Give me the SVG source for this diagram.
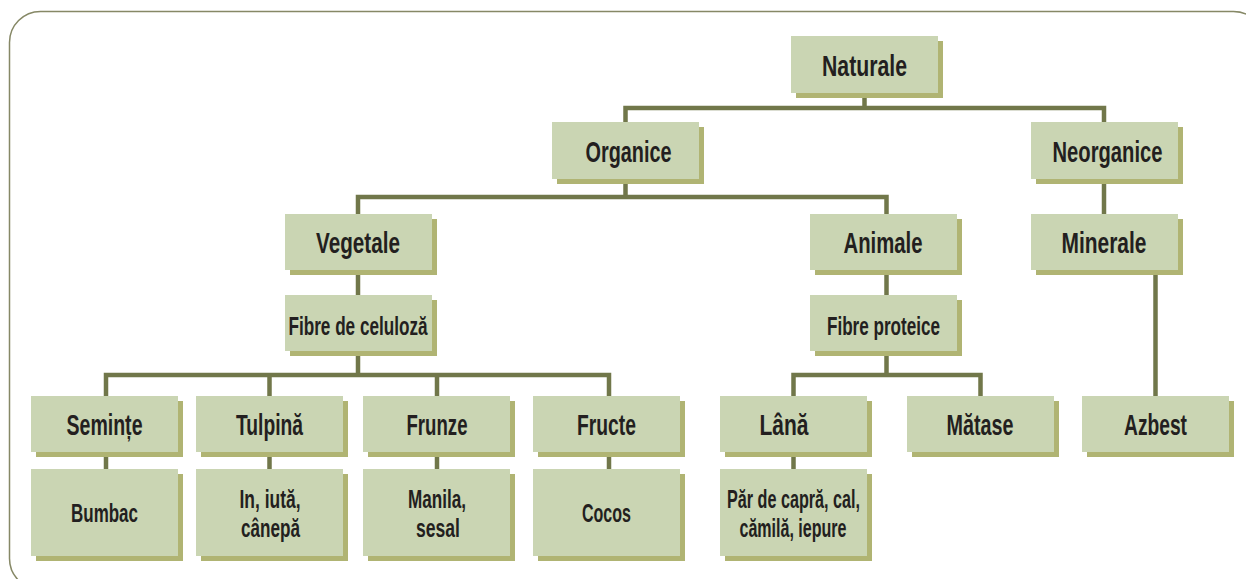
<svg xmlns="http://www.w3.org/2000/svg" width="1246" height="579" viewBox="0 0 1246 579">
<style>
.sh{fill:#b0b473}
.bx{fill:#cad5b3}
.t{font-family:"Liberation Sans",Arial,sans-serif;font-weight:bold;font-size:30px;fill:#231f20;text-anchor:middle}
.s{font-size:26px}
.c{fill:none;stroke:#71774a;stroke-width:4.5;stroke-linejoin:miter;stroke-linecap:butt}
</style>
<rect x="9.5" y="11.5" width="1255" height="578" rx="31" fill="#fff" stroke="#868866" stroke-width="1.5"/>
<g id="connectors" class="c">
<path d="M864.5,93V108M625.5,122V108H1104V122"/>
<path d="M625.5,179V197M358,214V197H886.5V214"/>
<path d="M1104,179V214"/>
<path d="M1155.5,270V396"/>
<path d="M358,270V295"/>
<path d="M358,351V375M106,396V375H609V396M269.5,375V396M437,375V396"/>
<path d="M886.5,270V295"/>
<path d="M886.5,351V375M793.5,396V375H980.5V396"/>
<path d="M106,452V469M269.5,452V469M437,452V469M609,452V469M793.5,452V469"/>
</g>
<g id="naturale"><rect class="sh" x="796" y="41" width="147" height="57"/><rect class="bx" x="791" y="36" width="147" height="57"/><text class="t" x="864.5" y="76" textLength="85" lengthAdjust="spacingAndGlyphs">Naturale</text></g>
<g id="organice"><rect class="sh" x="557" y="127" width="147" height="57"/><rect class="bx" x="552" y="122" width="147" height="57"/><text class="t" x="628.5" y="161.5" textLength="86" lengthAdjust="spacingAndGlyphs">Organice</text></g>
<g id="neorganice"><rect class="sh" x="1036" y="127" width="147" height="57"/><rect class="bx" x="1031" y="122" width="147" height="57"/><text class="t" x="1107.5" y="161.5" textLength="110" lengthAdjust="spacingAndGlyphs">Neorganice</text></g>
<g id="vegetale"><rect class="sh" x="290" y="219" width="147" height="56"/><rect class="bx" x="285" y="214" width="147" height="56"/><text class="t" x="358" y="253" textLength="84" lengthAdjust="spacingAndGlyphs">Vegetale</text></g>
<g id="animale"><rect class="sh" x="815" y="219" width="147" height="56"/><rect class="bx" x="810" y="214" width="147" height="56"/><text class="t" x="883" y="253" textLength="79" lengthAdjust="spacingAndGlyphs">Animale</text></g>
<g id="minerale"><rect class="sh" x="1036" y="219" width="147" height="56"/><rect class="bx" x="1031" y="214" width="147" height="56"/><text class="t" x="1104" y="253" textLength="85" lengthAdjust="spacingAndGlyphs">Minerale</text></g>
<g id="fibre-celuloza"><rect class="sh" x="290" y="300" width="147" height="56"/><rect class="bx" x="285" y="295" width="147" height="56"/><text class="t s" x="358" y="334.5" textLength="139" lengthAdjust="spacingAndGlyphs">Fibre de celuloză</text></g>
<g id="fibre-proteice"><rect class="sh" x="815" y="300" width="147" height="56"/><rect class="bx" x="810" y="295" width="147" height="56"/><text class="t s" x="883.5" y="334.5" textLength="113" lengthAdjust="spacingAndGlyphs">Fibre proteice</text></g>
<g id="seminte"><rect class="sh" x="36" y="401" width="147" height="56"/><rect class="bx" x="31" y="396" width="147" height="56"/><text class="t" x="104.5" y="435" textLength="76" lengthAdjust="spacingAndGlyphs">Semințe</text></g>
<g id="tulpina"><rect class="sh" x="201" y="401" width="147" height="56"/><rect class="bx" x="196" y="396" width="147" height="56"/><text class="t" x="269.5" y="435" textLength="67" lengthAdjust="spacingAndGlyphs">Tulpină</text></g>
<g id="frunze"><rect class="sh" x="368" y="401" width="147" height="56"/><rect class="bx" x="363" y="396" width="147" height="56"/><text class="t" x="437" y="435" textLength="61" lengthAdjust="spacingAndGlyphs">Frunze</text></g>
<g id="fructe"><rect class="sh" x="538" y="401" width="147" height="56"/><rect class="bx" x="533" y="396" width="147" height="56"/><text class="t" x="606.5" y="435" textLength="59" lengthAdjust="spacingAndGlyphs">Fructe</text></g>
<g id="lana"><rect class="sh" x="725" y="401" width="147" height="56"/><rect class="bx" x="720" y="396" width="147" height="56"/><text class="t" x="784" y="435" textLength="49" lengthAdjust="spacingAndGlyphs">Lână</text></g>
<g id="matase"><rect class="sh" x="912" y="401" width="147" height="56"/><rect class="bx" x="907" y="396" width="147" height="56"/><text class="t" x="980" y="435" textLength="67" lengthAdjust="spacingAndGlyphs">Mătase</text></g>
<g id="azbest"><rect class="sh" x="1087" y="401" width="147" height="56"/><rect class="bx" x="1082" y="396" width="147" height="56"/><text class="t" x="1155.5" y="435" textLength="63" lengthAdjust="spacingAndGlyphs">Azbest</text></g>
<g id="bumbac"><rect class="sh" x="36" y="474" width="147" height="87"/><rect class="bx" x="31" y="469" width="147" height="87"/><text class="t s" x="104.5" y="522" textLength="67" lengthAdjust="spacingAndGlyphs">Bumbac</text></g>
<g id="in-iuta-canepa"><rect class="sh" x="201" y="474" width="147" height="87"/><rect class="bx" x="196" y="469" width="147" height="87"/><text class="t s" x="270" y="508"><tspan textLength="61" lengthAdjust="spacingAndGlyphs">In, iută,</tspan><tspan x="270.5" y="536.5" textLength="59" lengthAdjust="spacingAndGlyphs">cânepă</tspan></text></g>
<g id="manila-sesal"><rect class="sh" x="368" y="474" width="147" height="87"/><rect class="bx" x="363" y="469" width="147" height="87"/><text class="t s" x="437" y="508"><tspan textLength="58" lengthAdjust="spacingAndGlyphs">Manila,</tspan><tspan x="438" y="536.5" textLength="44" lengthAdjust="spacingAndGlyphs">sesal</tspan></text></g>
<g id="cocos"><rect class="sh" x="538" y="474" width="147" height="87"/><rect class="bx" x="533" y="469" width="147" height="87"/><text class="t s" x="606.5" y="522" textLength="49" lengthAdjust="spacingAndGlyphs">Cocos</text></g>
<g id="par"><rect class="sh" x="725" y="474" width="147" height="87"/><rect class="bx" x="720" y="469" width="147" height="87"/><text class="t s" x="793.5" y="508"><tspan textLength="133" lengthAdjust="spacingAndGlyphs">Păr de capră, cal,</tspan><tspan x="793" y="536.5" textLength="107" lengthAdjust="spacingAndGlyphs">cămilă, iepure</tspan></text></g>
</svg>
